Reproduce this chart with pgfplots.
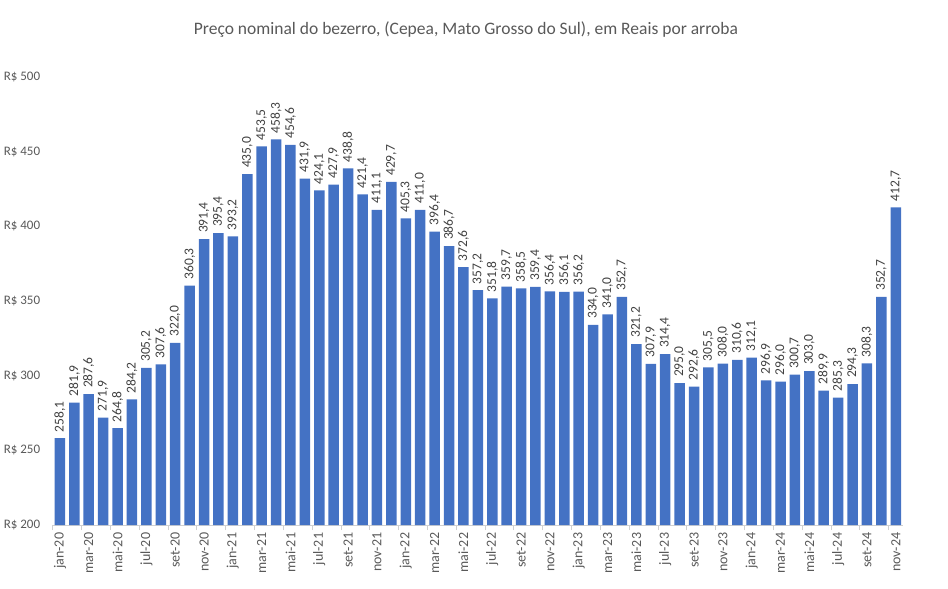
\documentclass[border=0pt]{standalone}
\usepackage{fontspec}
\setmainfont{Carlito}
\usepackage{pgfplots}
\usepackage{pgfplotstable}
\pgfplotsset{compat=1.18}

\definecolor{barblue}{HTML}{4472C4}
\definecolor{txtgray}{HTML}{595959}
\definecolor{lblgray}{HTML}{404040}
\definecolor{axgray}{HTML}{D0D0D0}

% preco nominal do bezerro, jan-20 .. nov-24 (idx = mes desde jan-20)
\pgfplotstableread{
idx preco
0 258.1
1 281.9
2 287.6
3 271.9
4 264.8
5 284.2
6 305.2
7 307.6
8 322.0
9 360.3
10 391.4
11 395.4
12 393.2
13 435.0
14 453.5
15 458.3
16 454.6
17 431.9
18 424.1
19 427.9
20 438.8
21 421.4
22 411.1
23 429.7
24 405.3
25 411.0
26 396.4
27 386.7
28 372.6
29 357.2
30 351.8
31 359.7
32 358.5
33 359.4
34 356.4
35 356.1
36 356.2
37 334.0
38 341.0
39 352.7
40 321.2
41 307.9
42 314.4
43 295.0
44 292.6
45 305.5
46 308.0
47 310.6
48 312.1
49 296.9
50 296.0
51 300.7
52 303.0
53 289.9
54 285.3
55 294.3
56 308.3
57 352.7
58 412.7
}\precos

\begin{document}
\begin{tikzpicture}
\path[use as bounding box] (-52.7pt,-64pt) rectangle (895.3pt,525pt);
\begin{axis}[
  scale only axis,
  width=850.3pt, height=448pt,
  xmin=-0.5, xmax=58.5,
  ymin=200, ymax=500,
  axis x line*=bottom, axis y line*=left,
  x axis line style={-, draw=axgray, line width=0.8pt},
  y axis line style={draw=none},
  ytick={200,250,...,500},
  yticklabels={R\$ 200,R\$ 250,R\$ 300,R\$ 350,R\$ 400,R\$ 450,R\$ 500},
  ytick style={draw=none},
  yticklabel style={font=\fontsize{13}{15}\selectfont, text=txtgray, anchor=east, xshift=-9pt},
  xtick={0,2,...,58},
  xticklabels={jan-20,mar-20,mai-20,jul-20,set-20,nov-20,
    jan-21,mar-21,mai-21,jul-21,set-21,nov-21,
    jan-22,mar-22,mai-22,jul-22,set-22,nov-22,
    jan-23,mar-23,mai-23,jul-23,set-23,nov-23,
    jan-24,mar-24,mai-24,jul-24,set-24,nov-24},
  major x tick style={draw=none},
  minor xtick={-0.5,1.5,...,58.5},
  minor x tick style={draw=axgray, line width=0.8pt},
  minor tick length=5pt,
  xtick align=outside,
  xticklabel style={rotate=90, anchor=east, font=\fontsize{14}{16}\selectfont, text=txtgray},
  title={Preço nominal do bezerro, (Cepea, Mato Grosso do Sul), em Reais por arroba},
  title style={at={(axis description cs:0.486,1)}, anchor=center, yshift=41pt,
    font=\fontsize{17.5}{20}\selectfont, text=txtgray},
  /pgf/number format/assume math mode=true,
  clip=false,
]
\addplot[ybar, bar width=10.5pt, fill=barblue, draw=none,
  point meta=y,
  nodes near coords={\pgfmathprintnumber[fixed, fixed zerofill, precision=1, use comma]{\pgfplotspointmeta}},
  every node near coord/.append style={rotate=90, anchor=west, inner xsep=6pt, inner ysep=1pt,
    font=\fontsize{13.5}{15}\selectfont, text=lblgray},
] table[x=idx, y=preco] {\precos};
\end{axis}
\end{tikzpicture}
\end{document}
